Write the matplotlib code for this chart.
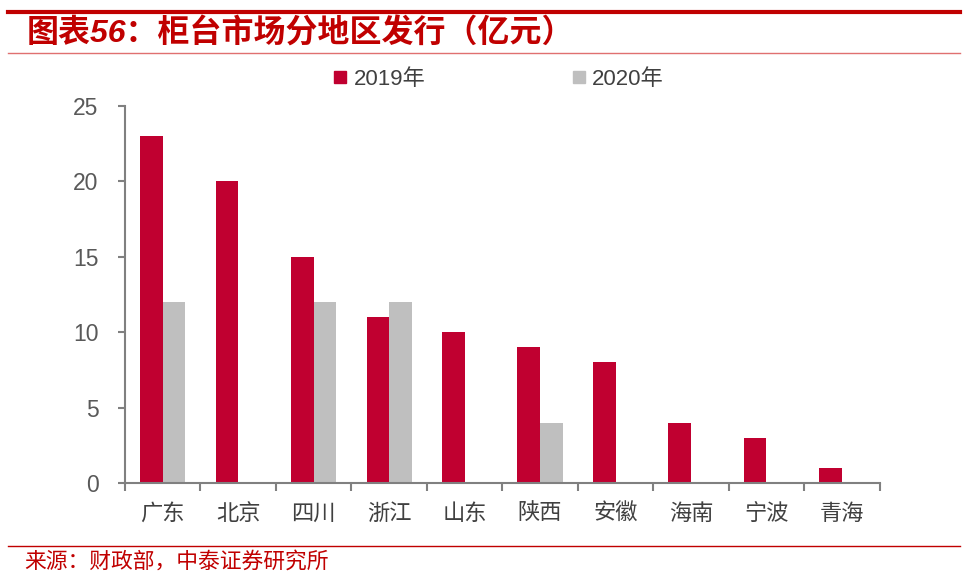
import numpy as np
import matplotlib
matplotlib.use("Agg")
import matplotlib.pyplot as plt
from matplotlib.lines import Line2D

plt.rcParams['font.family'] = ['Liberation Sans', 'Noto Sans CJK SC', 'DejaVu Sans']

regions = ["广东", "北京", "四川", "浙江", "山东", "陕西", "安徽", "海南", "宁波", "青海"]
v2019 = [23, 20, 15, 11, 10, 9, 8, 4, 3, 1]
v2020 = [12, 0, 12, 12, 0, 4, 0, 0, 0, 0]
series_names = ["2019年", "2020年"]

red = "#C00030"
gray = "#BFBFBF"
axis_gray = "#808080"

fig = plt.figure(figsize=(9.7, 5.78), dpi=100)
ax = fig.add_axes([0.1289, 0.1644, 0.778, 0.6522])

x = np.arange(len(regions))
w = 0.3
ax.bar(x - w / 2, v2019, w, color=red, label=series_names[0])
ax.bar(x + w / 2, v2020, w, color=gray, label=series_names[1])

ax.set_xlim(-0.5, len(regions) - 0.5)
ax.set_ylim(0, 25)
ax.set_yticks([0, 5, 10, 15, 20, 25])
ax.tick_params(axis='y', colors=axis_gray, labelcolor="#595959", labelsize=16.5,
               length=5, width=1.5, direction='out', pad=14)
ax.set_xticks(np.arange(len(regions) + 1) - 0.5)
ax.set_xticklabels([])
ax.set_xticks(x, minor=True)
ax.set_xticklabels(regions, minor=True)
ax.tick_params(axis='x', which='major', colors=axis_gray, length=6, width=1.5, direction='out')
ax.tick_params(axis='x', which='minor', length=0, labelsize=16, labelcolor="#404040", pad=15)
for s in ['top', 'right']:
    ax.spines[s].set_visible(False)
for s in ['left', 'bottom']:
    ax.spines[s].set_color(axis_gray)
    ax.spines[s].set_linewidth(1.5)

fig.legend(handles=[Line2D([], [], marker='s', ls='', color=red, markersize=9),
                    Line2D([], [], marker='s', ls='', color=gray, markersize=9)],
           labels=series_names, loc='center', bbox_to_anchor=(0.512, 0.862), ncol=2,
           frameon=False, fontsize=16, handletextpad=0.1, handlelength=1.0,
           columnspacing=6.4, labelcolor="#404040")

# header and footer decoration
fig.add_artist(Line2D([0.008, 0.99], [0.979, 0.979], color="#C00000", lw=3))
fig.add_artist(Line2D([0.008, 0.99], [0.908, 0.908], color="#E07070", lw=1))
fig.add_artist(Line2D([0.008, 0.99], [0.055, 0.055], color="#C00000", lw=1))
fig.text(0.027, 0.941, "图表56：柜台市场分地区发行（亿元）", color="#C00000", fontsize=23,
         fontweight='bold', fontstyle='italic', va='center', ha='left')
fig.text(0.025, 0.027, "来源：财政部，中泰证券研究所", color="#C00000", fontsize=15.7,
         va='center', ha='left')

fig.savefig("out.png", dpi=100)
